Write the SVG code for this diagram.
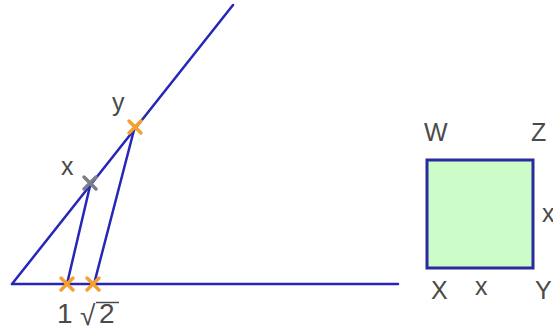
<svg xmlns="http://www.w3.org/2000/svg" width="553" height="334" viewBox="0 0 553 334">
<style>
.ln{stroke:#2626b8;stroke-width:2.5;fill:none;stroke-linecap:round}
.ox{stroke:#f5a031;stroke-width:3.5;stroke-linecap:round}
.gx{stroke:#7a8088;stroke-width:3.5;stroke-linecap:round}
.t{font-family:"Liberation Sans",Arial,sans-serif;font-size:25px;fill:#4a4a4a}
.b{font-size:28px}
</style>
<rect width="553" height="334" fill="#fff"/>
<g id="connectors">
<line class="ln" x1="12" y1="284" x2="398" y2="284"/>
<line class="ln" x1="12" y1="284" x2="233" y2="5"/>
<line class="ln" x1="90" y1="186" x2="67" y2="284"/>
<line class="ln" x1="134" y1="130" x2="94" y2="284"/>
</g>
<g id="mark-1"><path class="ox" d="M61,278L73,290M73,278L61,290"/></g>
<g id="mark-sqrt2"><path class="ox" d="M87,278L99,290M99,278L87,290"/></g>
<g id="point-y"><path class="ox" d="M129,121L141,133M141,121L129,133"/></g>
<g id="point-x"><path class="gx" d="M84,177L96,189M96,177L84,189"/></g>
<g id="labels">
<text class="t" x="112" y="111">y</text>
<text class="t" x="61" y="175">x</text>
<text class="t b" x="57" y="323">1</text>
<text class="t b" x="80" y="325">√</text>
<line x1="96" y1="302.5" x2="119" y2="302.5" stroke="#4a4a4a" stroke-width="1.5"/>
<text class="t b" x="99" y="323">2</text>
</g>
<g id="square">
<rect x="427" y="160" width="106" height="108" fill="#ccfcc8" stroke="#2a2aa0" stroke-width="3"/>
<text class="t" x="424" y="141">W</text>
<text class="t" x="531" y="141">Z</text>
<text class="t" x="542" y="222">x</text>
<text class="t" x="431" y="299">X</text>
<text class="t" x="475" y="295">x</text>
<text class="t" x="535" y="299">Y</text>
</g>
</svg>
